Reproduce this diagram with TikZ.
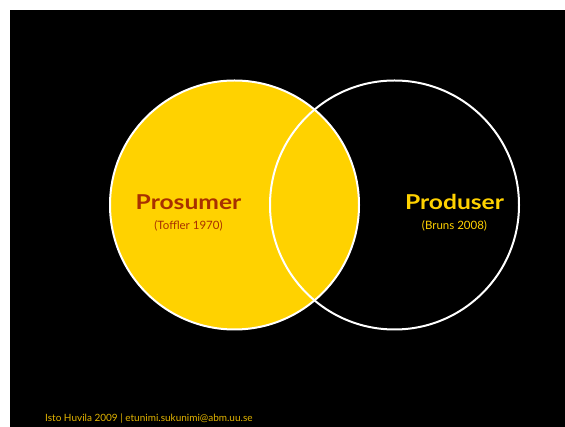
\documentclass[tikz,border=0pt]{standalone}
\usepackage{fontspec}
\setmainfont{Lato}
\newfontfamily\titlefont[FakeStretch=1.2]{Lato}
\definecolor{gold}{RGB}{255,210,0}
\definecolor{rust}{RGB}{168,48,0}
\definecolor{footgold}{RGB}{226,180,0}
\begin{document}
\begin{tikzpicture}[x=1pt,y=-1pt,
    title/.style={anchor=base,inner sep=0pt,font=\titlefont\fontsize{20.5}{24}\selectfont\bfseries},
    cite/.style={anchor=base,inner sep=0pt,font=\fontsize{11.5}{13}\selectfont}]

\useasboundingbox (0,0) rectangle (565,427);
\fill [white] (0,0) rectangle (565,427);
\fill [black] (10,10) rectangle (565,427);

\fill [gold] (234.5,205) circle (124.5);
\draw [white,line width=2pt] (234.5,205) circle (124.5);
\draw [white,line width=2pt] (394.5,205) circle (124.5);

\node [title,text=rust] (prosumer) at (188.5,210) {Prosumer};
\node [cite,text=rust] (toffler) at (188.5,229.5) {(Toffler 1970)};

\node [title,text=gold] (produser) at (454.5,210) {Produser};
\node [cite,text=gold] (bruns) at (454.5,229.5) {(Bruns 2008)};

\node [anchor=base west,inner sep=0pt,text=footgold,font=\fontsize{10}{12}\selectfont] (footer) at (45,421.5) {Isto Huvila 2009 | etunimi.sukunimi@abm.uu.se};

\end{tikzpicture}
\end{document}
